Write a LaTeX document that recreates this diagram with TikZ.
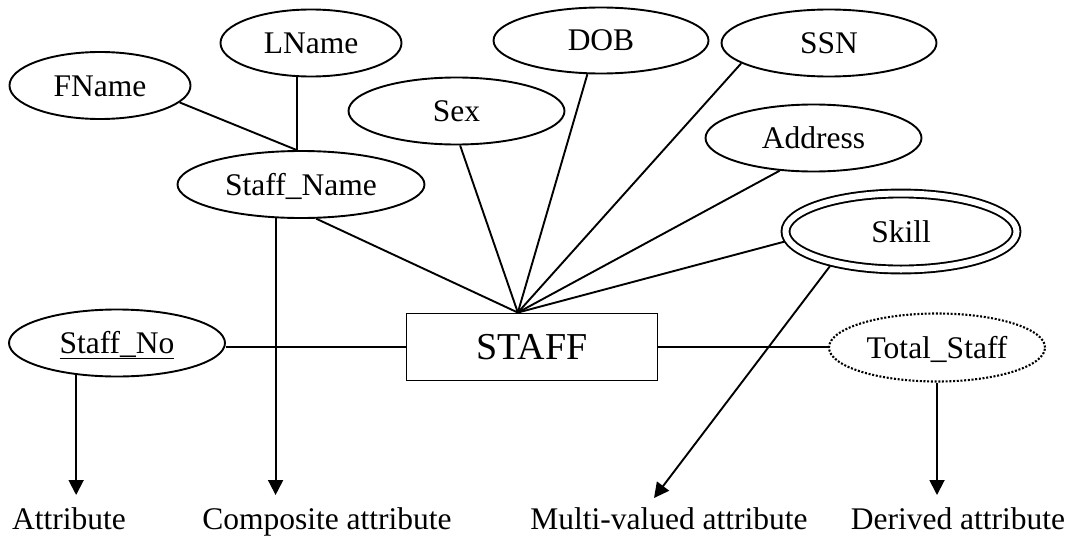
\documentclass[tikz,border=0pt]{standalone}
\usepackage{fontspec}
\setmainfont{Liberation Serif}
\usetikzlibrary{shapes.geometric,arrows.meta,calc}
% key attribute: text with a rule under it
\newcommand\keyattr[1]{\setbox0\hbox{#1}\rlap{\rule[-5.5pt]{\wd0}{1.3pt}}\box0}

\begin{document}
\begin{tikzpicture}[x=1pt,y=-1pt,
  every node/.style={font=\fontsize{31.5}{36}\selectfont},
  line/.style={line width=1.9pt},
  attr/.style={ellipse, draw, line width=1.9pt, inner sep=0pt,
    text height=21pt, text depth=0pt},
  multi/.style={attr, double, double distance=6pt, outer sep=4.9pt},
  derived/.style={attr, line width=2.1pt, dash pattern=on 2pt off 1.7pt},
  entity/.style={rectangle, draw, line width=1.9pt, inner sep=0pt,
    minimum width=251pt, minimum height=67pt,
    text height=25pt, text depth=0pt, font=\fontsize{38}{44}\selectfont},
  note/.style={anchor=base, inner sep=0pt},
  tip/.style={line width=1.9pt, -{Triangle[width=15pt,length=15pt]}}]

\useasboundingbox (0,0) rectangle (1075,535);

% entity
\node[entity] (staff) at (532,347) {STAFF};

% attributes
\node[attr, minimum width=181pt, minimum height=67pt] (fname) at (100,85.5) {FName};
\node[attr, minimum width=181pt, minimum height=67pt] (lname) at (311,43) {LName};
\node[attr, minimum width=247pt, minimum height=67pt] (sn) at (301,184.5) {Staff\_Name};
\node[attr, minimum width=216pt, minimum height=67pt] (sex) at (456.5,111) {Sex};
\node[attr, minimum width=215pt, minimum height=66pt] (dob) at (601,40.5) {DOB};
\node[attr, minimum width=215pt, minimum height=67pt] (ssn) at (829,43) {SSN};
\node[attr, minimum width=216pt, minimum height=67pt] (addr) at (813.5,138) {Address};
\node[multi, minimum width=231pt, minimum height=76pt] (skill) at (901,231.5) {Skill};
\node[attr, minimum width=216pt, minimum height=67pt] (sno) at (117,343) {\keyattr{Staff\_No}};
\node[derived, minimum width=216pt, minimum height=68pt] (ts) at (937,347.5) {Total\_Staff};

% legend captions
\node[note] (lA) at (69,529) {Attribute};
\node[note] (lC) at (327,529) {Composite attribute};
\node[note] (lM) at (669,529) {Multi-valued attribute};
\node[note] (lD) at (958,529) {Derived attribute};

% composite attribute parts
\draw[line] (fname.-12.5) -- (sn.97);
\draw[line] (sn.97 |- lname.south) -- (sn.97);

% attributes meeting at one point on the entity
\coordinate (apex) at ($(staff.north west)!0.444!(staff.north east)$);
\draw[line] (sn.-66) -- (apex);
\draw[line] (sex.-84) -- (apex);
\draw[line] (dob.-112.7) -- (apex);
\draw[line] (ssn.-167) -- (apex);
\draw[line] (addr.-136) -- (apex);
\draw[line] (skill.-175) -- (apex);

% key and derived attributes
\draw[line] (staff.west) -- (staff.west -| sno.east);
\draw[line] (staff.east) -- (staff.east -| ts.west);

% pointers to the captions
\coordinate (tipy) at (0,495);
\coordinate (tipM) at (654,498);
\draw[tip] (sno.-142) -- (sno.-142 |- tipy);
\draw[tip] (sn.-127) -- (sn.-127 |- tipy);
\draw[tip] (skill.-154) -- (tipM);
\draw[tip] (ts.south) -- (ts.south |- tipy);
\end{tikzpicture}
\end{document}
